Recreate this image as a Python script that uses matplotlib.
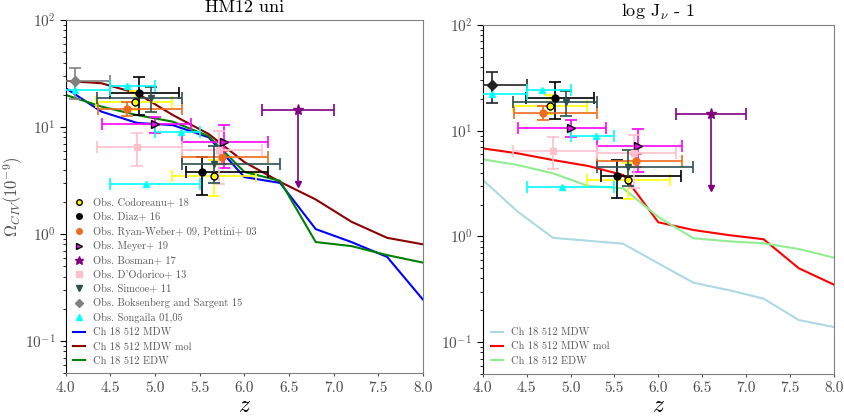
import numpy as np
import matplotlib
matplotlib.use('Agg')
import matplotlib.pyplot as plt

plt.rcParams['font.family'] = ['cmr10', 'DejaVu Serif']
plt.rcParams['mathtext.fontset'] = 'cm'
plt.rcParams['axes.formatter.use_mathtext'] = True
plt.rcParams['axes.unicode_minus'] = False

# redshift grid of the simulations
z_sim = [4.0, 4.4, 4.8, 5.2, 5.6, 6.0, 6.4, 6.8, 7.2, 7.6, 8.0]

# HM12 uni
hm_mdw = [23.0, 13.9, 10.9, 10.4, 8.0, 3.4, 3.0, 1.11, 0.84, 0.61, 0.244]
hm_mdw_mol = [27.0, 25.6, 20.6, 12.9, 8.6, 4.7, 3.07, 2.1, 1.30, 0.92, 0.80]
hm_edw = [19.9, 15.5, 12.9, 11.2, 8.2, 3.8, 3.14, 0.84, 0.77, 0.634, 0.54]

# log J_nu - 1
lj_mdw = [3.42, 1.71, 0.97, 0.91, 0.853, 0.556, 0.365, 0.311, 0.258, 0.162, 0.139]
lj_mdw_mol = [6.8, 6.1, 5.28, 4.64, 3.81, 1.36, 1.15, 1.03, 0.94, 0.50, 0.35]
lj_edw = [5.36, 4.73, 3.95, 3.0, 2.85, 1.53, 0.96, 0.90, 0.86, 0.76, 0.63]

# observations: z, Omega, z range, Omega range
cod_z = [4.77, 5.66]
cod_om = [17.2, 3.45]
cod_zlo = [4.34, 5.19]
cod_zhi = [5.19, 6.13]
cod_omlo = [14.4, 2.26]
cod_omhi = [21.8, 4.9]

diaz_z = [4.82, 5.53]
diaz_om = [20.6, 3.76]
diaz_zlo = [4.49, 5.345]
diaz_zhi = [5.27, 6.26]
diaz_omlo = [12.9, 2.31]
diaz_omhi = [29.1, 5.26]

rw_z = [4.69, 5.75]
rw_om = [14.7, 5.2]
rw_zlo = [4.36, 5.30]
rw_zhi = [5.30, 6.27]
rw_omlo = [12.6, 4.5]
rw_omhi = [17.0, 6.0]

mey_z = [5.0, 5.77]
mey_om = [10.7, 7.2]
mey_zlo = [4.40, 5.30]
mey_zhi = [5.40, 6.27]
mey_omlo = [8.8, 4.1]
mey_omhi = [12.5, 10.4]

bos_z = [6.6]
bos_om = [14.4]
bos_zlo = [6.2]
bos_zhi = [7.0]
bos_omlim = [2.9]

dod_z = [4.80, 5.72]
dod_om = [6.45, 6.1]
dod_zlo = [4.35, 5.30]
dod_zhi = [5.30, 6.20]
dod_omlo = [4.3, 2.9]
dod_omhi = [8.7, 9.2]

sim_z = [4.95, 5.66]
sim_om = [18.8, 4.5]
sim_zlo = [4.35, 5.30]
sim_zhi = [5.30, 6.40]
sim_omlo = [13.9, 3.0]
sim_omhi = [23.8, 6.6]

bok_z = [4.1]
bok_om = [27.0]
bok_zlo = [3.7]
bok_zhi = [4.5]
bok_omlo = [18.3]
bok_omhi = [35.7]

son_z = [4.1, 4.68, 5.29, 4.9]
son_om = [22.1, 24.3, 8.9, 2.96]
son_zlo = [3.8, 4.5, 5.0, 4.5]
son_zhi = [4.5, 5.0, 5.5, 5.5]


def err(c, lo, hi):
    c = np.array(c)
    return [c - np.array(lo), np.array(hi) - c]


def obs(ax, z, om, zlo, zhi, olo, ohi, col, mk, label, ms=5, mec=None):
    yerr = None if olo is None else err(om, olo, ohi)
    ax.errorbar(z, om, xerr=err(z, zlo, zhi), yerr=yerr, fmt='none',
                ecolor=col, elinewidth=1.2, capsize=4, capthick=1.2, zorder=3)
    ax.plot(z, om, ls='none', marker=mk, ms=ms, color=col,
            mec=mec if mec else col, mew=1.0, label=label, zorder=4)


def all_obs(ax, bok_col):
    obs(ax, cod_z, cod_om, cod_zlo, cod_zhi, cod_omlo, cod_omhi, 'yellow', 'o',
        'Obs. Codoreanu+ 18', mec='k')
    obs(ax, diaz_z, diaz_om, diaz_zlo, diaz_zhi, diaz_omlo, diaz_omhi, 'k', 'o',
        'Obs. Diaz+ 16')
    obs(ax, rw_z, rw_om, rw_zlo, rw_zhi, rw_omlo, rw_omhi, '#ee6a1c', 'o',
        'Obs. Ryan-Weber+ 09, Pettini+ 03')
    obs(ax, mey_z, mey_om, mey_zlo, mey_zhi, mey_omlo, mey_omhi, 'magenta', '>',
        'Obs. Meyer+ 19', ms=6, mec='k')
    # Bosman: upper limit, arrow down
    ax.errorbar(bos_z, bos_om, xerr=err(bos_z, bos_zlo, bos_zhi), fmt='none',
                ecolor='purple', elinewidth=1.2, capsize=4, capthick=1.2, zorder=3)
    ax.vlines(bos_z, bos_omlim, bos_om, color='purple', lw=1.2, zorder=3)
    ax.plot(bos_z, bos_omlim, ls='none', marker='v', ms=5, color='purple', zorder=3)
    ax.plot(bos_z, bos_om, ls='none', marker='*', ms=8, color='purple',
            label='Obs. Bosman+ 17', zorder=4)
    obs(ax, dod_z, dod_om, dod_zlo, dod_zhi, dod_omlo, dod_omhi, 'pink', 's',
        "Obs. D'Odorico+ 13")
    obs(ax, sim_z, sim_om, sim_zlo, sim_zhi, sim_omlo, sim_omhi, 'darkslategray', 'v',
        'Obs. Simcoe+ 11')
    obs(ax, bok_z, bok_om, bok_zlo, bok_zhi, bok_omlo, bok_omhi, bok_col, 'D',
        'Obs. Boksenberg and Sargent 15', ms=5)
    obs(ax, son_z, son_om, son_zlo, son_zhi, None, None, 'cyan', '^',
        'Obs. Songaila 01,05')


def style(ax, title):
    ax.set_yscale('log')
    ax.set_xlim(4.0, 8.0)
    ax.set_ylim(0.05, 100)
    ax.set_xticks(np.arange(4.0, 8.01, 0.5))
    ax.xaxis.set_major_formatter(matplotlib.ticker.FormatStrFormatter('%.1f'))
    ax.set_title(title, fontsize=13, pad=6)
    ax.set_xlabel(r'$z$', fontsize=17, labelpad=0)
    for s in ['top', 'right', 'bottom']:
        ax.spines[s].set_color('0.5')
    ax.spines['left'].set_color('k')
    ax.tick_params(axis='x', length=2, labelsize=11, colors='0.3')
    ax.tick_params(axis='y', which='major', length=4, labelsize=11, labelcolor='0.3')
    ax.tick_params(axis='y', which='minor', length=2)


fig = plt.figure(figsize=(8.44, 4.16), dpi=100)

ax1 = fig.add_axes([0.078, 0.103, 0.423, 0.849])
all_obs(ax1, 'gray')
ax1.plot(z_sim, hm_mdw, color='blue', lw=1.5, label='Ch 18 512 MDW', zorder=2)
ax1.plot(z_sim, hm_mdw_mol, color='darkred', lw=1.5, label='Ch 18 512 MDW mol', zorder=2)
ax1.plot(z_sim, hm_edw, color='green', lw=1.5, label='Ch 18 512 EDW', zorder=2)
style(ax1, 'HM12 uni')
ax1.set_ylabel(r'$\Omega_{CIV}(10^{-9})$', fontsize=12, color='0.3', labelpad=0)
ax1.legend(loc='lower left', fontsize=7.5, frameon=False, handlelength=1.15,
           labelcolor='0.35', labelspacing=0.45, borderaxespad=0.3, markerscale=0.8)

ax2 = fig.add_axes([0.572, 0.101, 0.416, 0.839])
all_obs(ax2, '#222222')
l1, = ax2.plot(z_sim, lj_mdw, color='lightblue', lw=1.5, zorder=2)
l2, = ax2.plot(z_sim, lj_mdw_mol, color='red', lw=1.5, zorder=2)
l3, = ax2.plot(z_sim, lj_edw, color='lightgreen', lw=1.5, zorder=2)
style(ax2, r'log J$_\nu$ - 1')
ax2.legend([l1, l2, l3], ['Ch 18 512 MDW', 'Ch 18 512 MDW mol', 'Ch 18 512 EDW'],
           loc='lower left', fontsize=7.5, frameon=False, handlelength=1.15,
           labelcolor='0.35', labelspacing=0.45, borderaxespad=0.4)

fig.savefig('out.png', dpi=100)
